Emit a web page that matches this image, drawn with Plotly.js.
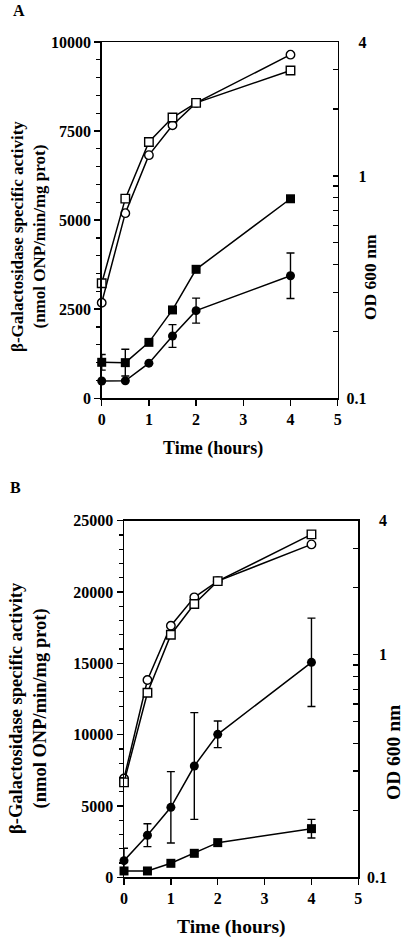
<!DOCTYPE html>
<html>
<head>
<meta charset="utf-8">
<script src="https://cdn.plot.ly/plotly-3.0.1.min.js"></script>
<style>html,body{margin:0;padding:0;background:#fff;}#chart{width:407px;height:940px;}</style>
</head>
<body>
<div id="chart"></div>
<script>
// ---- Data ----
const timeHours = [0, 0.5, 1, 1.5, 2, 4];

// Panel A
const aOpenCircleOD  = [0.269, 0.68, 1.24, 1.69, 2.13, 3.51];
const aOpenSquareOD  = [0.329, 0.79, 1.42, 1.83, 2.13, 2.98];
const aFilledSquare  = [1010, 1000, 1570, 2480, 3620, 5600];
const aFilledSquareErr = [220, 375, null, null, null, null];
const aFilledCircle  = [486, 490, 985, 1748, 2460, 3440];
const aFilledCircleErr = [null, null, null, 320, 350, 640];

// Panel B
const bOpenCircleOD  = [0.278, 0.77, 1.35, 1.81, 2.14, 3.13];
const bOpenSquareOD  = [0.267, 0.675, 1.23, 1.69, 2.14, 3.47];
const bFilledCircle  = [1165, 2950, 4906, 7802, 10023, 15069];
const bFilledCircleErr = [870, 800, 2500, 3740, 930, 3100];
const bFilledSquare  = [444, 444, 981, 1682, 2430, 3410];
const bFilledSquareErr = [null, null, null, null, null, 650];

// Axis tick labels
const leftTicksA = [0, 2500, 5000, 7500, 10000];
const leftTicksB = [0, 5000, 10000, 15000, 20000, 25000];
const odTickVals = [0.1, 0.2, 0.3, 0.4, 0.5, 0.6, 0.7, 0.8, 0.9, 1, 2, 3, 4];
const odTickText = ['0.1', '', '', '', '', '', '', '', '', '\u2007\u20081', '', '', '\u2007\u20084'];
const xTicks = [0, 1, 2, 3, 4, 5];

// ---- Styling ----
const FAM = 'Liberation Serif, Times New Roman, serif';
const tickFont = {family: FAM, size: 16, color: '#000', weight: 700};
const LW = 1.5;

function lineTrace(x, y, xa, ya, symbol, filled, size, err) {
  const t = {
    type: 'scatter', mode: 'lines+markers', x: x, y: y, xaxis: xa, yaxis: ya,
    cliponaxis: false, showlegend: false,
    line: {color: '#000', width: LW},
    marker: {symbol: symbol, size: size, color: filled ? '#000' : '#fff',
             line: {color: '#000', width: filled ? 0 : 1.4}}
  };
  if (err) {
    t.error_y = {type: 'data', array: err, symmetric: true, color: '#000', thickness: 1.4, width: 4};
  }
  return t;
}

const traces = [
  lineTrace(timeHours, aFilledSquare, 'x', 'y', 'square', true, 9, aFilledSquareErr),
  lineTrace(timeHours, aFilledCircle, 'x', 'y', 'circle', true, 9, aFilledCircleErr),
  lineTrace(timeHours, aOpenCircleOD, 'x', 'y2', 'circle', false, 8.5),
  lineTrace(timeHours, aOpenSquareOD, 'x', 'y2', 'square', false, 8.5),
  lineTrace(timeHours, bFilledCircle, 'x2', 'y3', 'circle', true, 9, bFilledCircleErr),
  lineTrace(timeHours, bFilledSquare, 'x2', 'y3', 'square', true, 9, bFilledSquareErr),
  lineTrace(timeHours, bOpenCircleOD, 'x2', 'y4', 'circle', false, 8.5),
  lineTrace(timeHours, bOpenSquareOD, 'x2', 'y4', 'square', false, 8.5)
];

function xAxis(domain, anchor) {
  return {domain: domain, anchor: anchor, range: [0, 5], tickmode: 'array', tickvals: xTicks,
    ticktext: xTicks.map(String),
    ticks: 'outside', ticklen: 6, tickwidth: LW, tickcolor: '#000',
    showline: true, linewidth: LW, linecolor: '#000', mirror: true,
    showgrid: false, zeroline: false, tickfont: tickFont, fixedrange: true};
}
function leftAxis(domain, anchor, ticks, minorD) {
  return {domain: domain, anchor: anchor, range: [ticks[0], ticks[ticks.length - 1]],
    tickmode: 'linear', tick0: ticks[0], dtick: ticks[1] - ticks[0], tickformat: 'd',
    ticks: 'outside', ticklen: 6, tickwidth: LW, tickcolor: '#000',
    minor: {tickmode: 'linear', tick0: 0, dtick: minorD, ticks: 'outside', ticklen: 4, tickwidth: 1.2, tickcolor: '#000', showgrid: false},
    showline: true, linewidth: LW, linecolor: '#000',
    showgrid: false, zeroline: false, tickfont: tickFont, fixedrange: true};
}
function rightAxis(overlay, anchor) {
  return {overlaying: overlay, anchor: anchor, side: 'right', type: 'log',
    range: [-1, Math.log10(4)], tickmode: 'array', tickvals: odTickVals, ticktext: odTickText,
    ticks: 'inside', ticklen: 5, tickwidth: 1.3, tickcolor: '#000',
    ticklabelstandoff: 4,
    showline: true, linewidth: LW, linecolor: '#000',
    showgrid: false, zeroline: false, tickfont: tickFont, fixedrange: true};
}

function ann(text, x, y, size, angle) {
  return {text: '<b>' + text + '</b>', x: x, y: y, xref: 'paper', yref: 'paper', showarrow: false,
    xanchor: 'center', yanchor: 'middle', textangle: angle || 0,
    font: {family: FAM, size: size, color: '#000'}};
}

const layout = {
  width: 407, height: 940,
  margin: {l: 0, r: 0, t: 0, b: 0},
  paper_bgcolor: '#fff', plot_bgcolor: 'rgba(0,0,0,0)',
  showlegend: false,
  xaxis: xAxis([0.2499, 0.8297], 'y'),
  yaxis: leftAxis([0.5763, 0.9553], 'x', leftTicksA, 500),
  yaxis2: rightAxis('y', 'x'),
  xaxis2: xAxis([0.3047, 0.8804], 'y3'),
  yaxis3: leftAxis([0.0667, 0.4461], 'x2', leftTicksB, 1000),
  yaxis4: rightAxis('y3', 'x2'),
  annotations: [
    ann('A', 0.0467, 0.9883, 16),
    ann('B', 0.0393, 0.4809, 16),
    ann('\u03b2-Galactosidase specific activity<br>(nmol ONP/min/mg prot)', 28/407, 1 - 237/940, 17, -90),
    ann('\u03b2-Galactosidase specific activity<br>(nmol ONP/min/mg prot)', 28/407, 1 - 708/940, 18.5, -90),
    ann('OD 600 nm', 370/407, 1 - 277/940, 17.5, -90),
    ann('OD 600 nm', 393/407, 1 - 753/940, 19.5, -90),
    ann('Time (hours)', 213/407, 1 - 448/940, 18),
    ann('Time (hours)', 231.7/407, 1 - 927.3/940, 19.5)
  ]
};

Plotly.newPlot('chart', traces, layout, {staticPlot: true, displayModeBar: false});
</script>
</body>
</html>
